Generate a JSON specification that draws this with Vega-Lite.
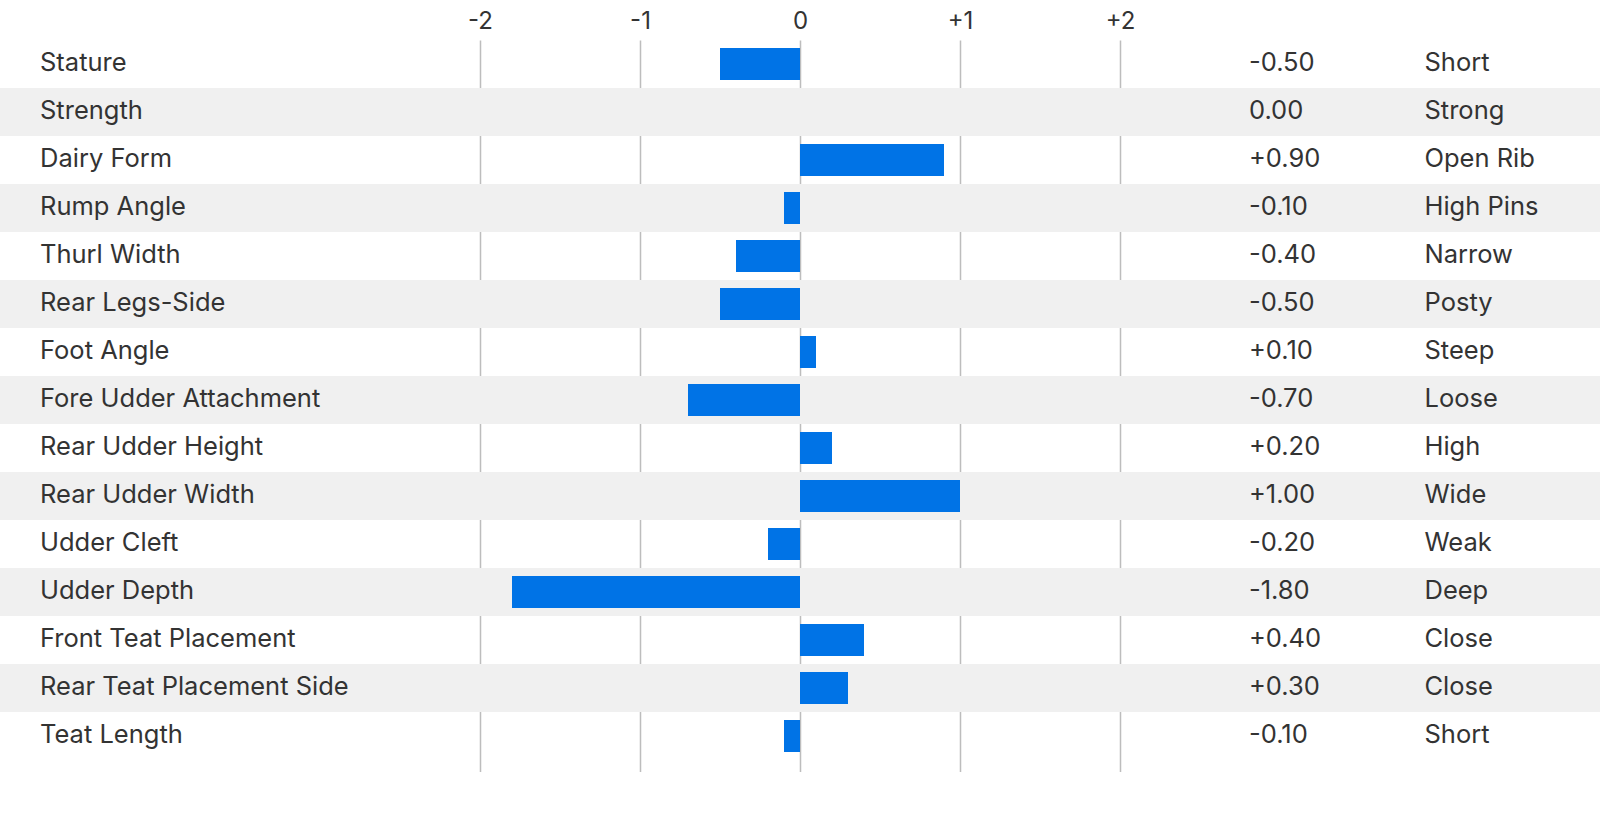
{
  "$schema": "https://vega.github.io/schema/vega-lite/v6.json",
  "autosize": {"type": "none"},
  "padding": {"top": 40, "left": 0, "right": 0, "bottom": 0},
  "width": 1600,
  "height": 732,
  "background": "white",
  "config": {
    "view": {"stroke": null},
    "font": "Inter",
    "text": {"font": "Inter", "fontSize": 25.5, "color": "#333333", "dy": -1}
  },
  "data": {
    "values": [
      {"i": 0, "trait": "Stature", "value": -0.5, "display": "-0.50", "desc": "Short"},
      {"i": 1, "trait": "Strength", "value": 0.0, "display": "0.00", "desc": "Strong"},
      {"i": 2, "trait": "Dairy Form", "value": 0.9, "display": "+0.90", "desc": "Open Rib"},
      {"i": 3, "trait": "Rump Angle", "value": -0.1, "display": "-0.10", "desc": "High Pins"},
      {"i": 4, "trait": "Thurl Width", "value": -0.4, "display": "-0.40", "desc": "Narrow"},
      {"i": 5, "trait": "Rear Legs-Side", "value": -0.5, "display": "-0.50", "desc": "Posty"},
      {"i": 6, "trait": "Foot Angle", "value": 0.1, "display": "+0.10", "desc": "Steep"},
      {"i": 7, "trait": "Fore Udder Attachment", "value": -0.7, "display": "-0.70", "desc": "Loose"},
      {"i": 8, "trait": "Rear Udder Height", "value": 0.2, "display": "+0.20", "desc": "High"},
      {"i": 9, "trait": "Rear Udder Width", "value": 1.0, "display": "+1.00", "desc": "Wide"},
      {"i": 10, "trait": "Udder Cleft", "value": -0.2, "display": "-0.20", "desc": "Weak"},
      {"i": 11, "trait": "Udder Depth", "value": -1.8, "display": "-1.80", "desc": "Deep"},
      {"i": 12, "trait": "Front Teat Placement", "value": 0.4, "display": "+0.40", "desc": "Close"},
      {"i": 13, "trait": "Rear Teat Placement Side", "value": 0.3, "display": "+0.30", "desc": "Close"},
      {"i": 14, "trait": "Teat Length", "value": -0.1, "display": "-0.10", "desc": "Short"}
    ]
  },
  "encoding": {
    "y": {
      "field": "trait",
      "type": "nominal",
      "scale": {
        "domain": ["Stature", "Strength", "Dairy Form", "Rump Angle", "Thurl Width", "Rear Legs-Side", "Foot Angle", "Fore Udder Attachment", "Rear Udder Height", "Rear Udder Width", "Udder Cleft", "Udder Depth", "Front Teat Placement", "Rear Teat Placement Side", "Teat Length"],
        "paddingInner": 0,
        "paddingOuter": 0.125,
        "align": 0
      },
      "axis": null
    }
  },
  "layer": [
    {
      "transform": [{"filter": "datum.i % 2 == 1"}],
      "mark": {"type": "rect", "color": "#f0f0f0"}
    },
    {
      "mark": {"type": "bar", "color": "#0073e6", "height": 32},
      "encoding": {
        "x": {
          "field": "value",
          "type": "quantitative",
          "scale": {"domain": [-5, 5], "nice": false, "zero": false},
          "axis": {
            "orient": "top",
            "title": null,
            "values": [-2, -1, 0, 1, 2],
            "labelExpr": "datum.value > 0 ? '+' + datum.value : '' + datum.value",
            "labelFont": "Inter",
            "labelFontSize": 24,
            "labelColor": "#333333",
            "labelPadding": 7,
            "ticks": false,
            "tickSize": 0,
            "domain": false,
            "grid": true,
            "gridColor": "#bdbdbd",
            "gridWidth": 1.5,
            "zindex": 0
          }
        },
        "x2": {"datum": 0}
      }
    },
    {
      "mark": {"type": "text", "align": "left", "baseline": "middle"},
      "encoding": {
        "x": {"datum": -4.75},
        "text": {"field": "trait"}
      }
    },
    {
      "mark": {"type": "text", "align": "left", "baseline": "middle"},
      "encoding": {
        "x": {"datum": 2.806},
        "text": {"field": "display"}
      }
    },
    {
      "mark": {"type": "text", "align": "left", "baseline": "middle"},
      "encoding": {
        "x": {"datum": 3.903},
        "text": {"field": "desc"}
      }
    }
  ]
}
